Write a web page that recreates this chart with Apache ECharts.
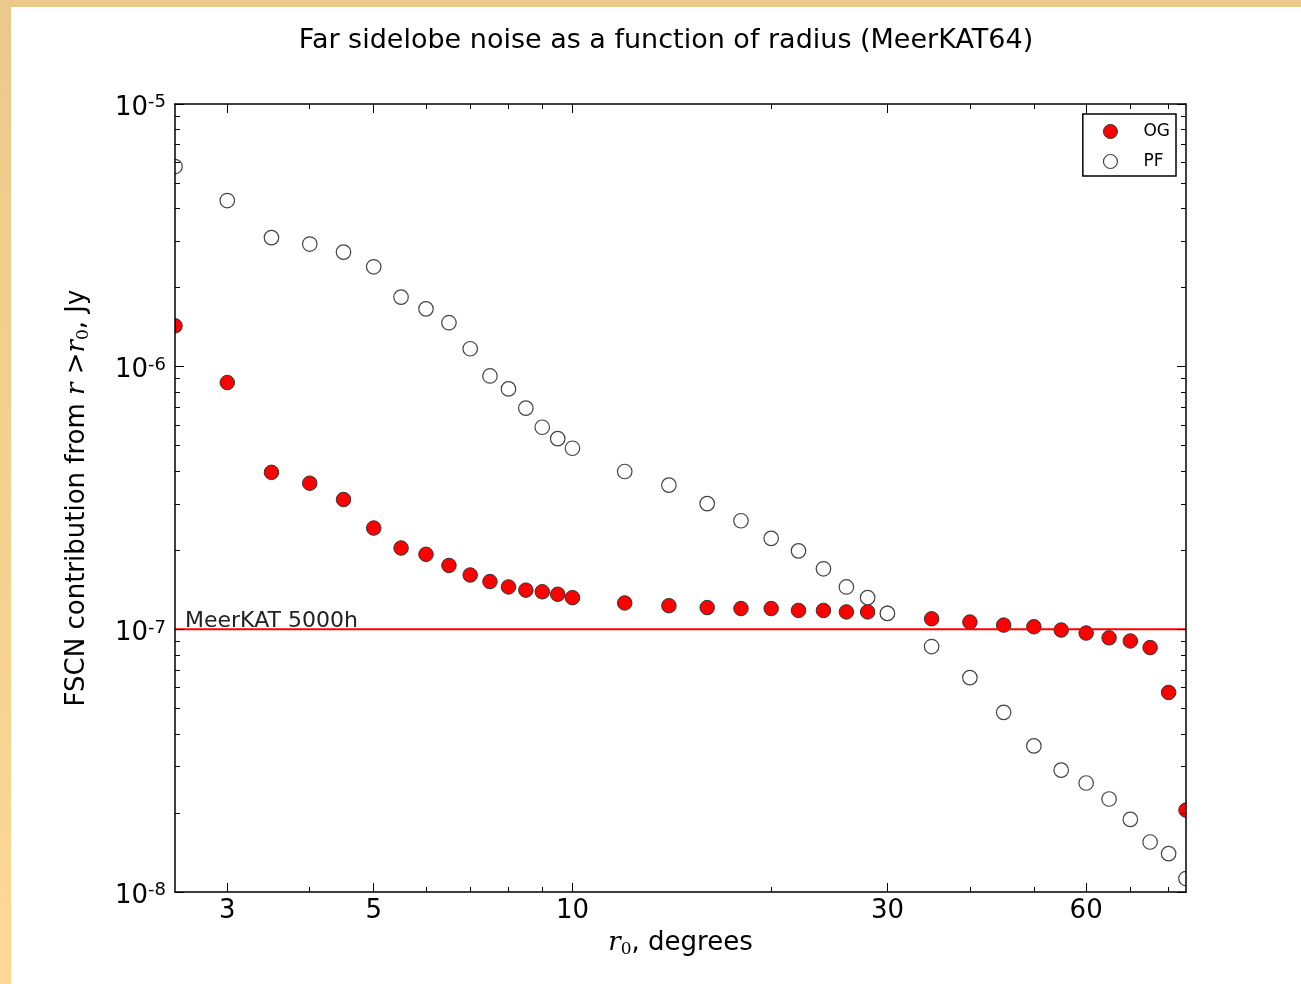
<!DOCTYPE html>
<html>
<head>
<meta charset="utf-8">
<script src="https://cdn.jsdelivr.net/npm/echarts@6/dist/echarts.min.js"></script>
<style>
  html, body { margin: 0; padding: 0; background: #ffffff; }
  #chart { width: 1301px; height: 984px; }
</style>
</head>
<body>
<div id="chart"></div>
<script>
// ---- data ----
const r0 = [2.5, 3, 3.5, 4, 4.5, 5, 5.5, 6, 6.5, 7, 7.5, 8, 8.5, 9, 9.5, 10,
            12, 14, 16, 18, 20, 22, 24, 26, 28, 30,
            35, 40, 45, 50, 55, 60, 65, 70, 75, 80, 85];
const ogValues = [1.43e-6, 8.7e-7, 3.96e-7, 3.6e-7, 3.12e-7, 2.43e-7, 2.04e-7, 1.93e-7, 1.75e-7, 1.61e-7,
                  1.52e-7, 1.45e-7, 1.41e-7, 1.39e-7, 1.36e-7, 1.32e-7,
                  1.26e-7, 1.23e-7, 1.21e-7, 1.20e-7, 1.20e-7, 1.18e-7, 1.18e-7, 1.165e-7, 1.165e-7, 1.15e-7,
                  1.097e-7, 1.066e-7, 1.038e-7, 1.023e-7, 9.94e-8, 9.68e-8, 9.28e-8, 9.03e-8, 8.52e-8, 5.75e-8, 2.05e-8];
const pfValues = [5.78e-6, 4.29e-6, 3.10e-6, 2.93e-6, 2.73e-6, 2.40e-6, 1.84e-6, 1.66e-6, 1.47e-6, 1.17e-6,
                  9.22e-7, 8.23e-7, 6.95e-7, 5.88e-7, 5.32e-7, 4.89e-7,
                  3.99e-7, 3.54e-7, 3.01e-7, 2.59e-7, 2.22e-7, 1.99e-7, 1.70e-7, 1.45e-7, 1.32e-7, 1.15e-7,
                  8.6e-8, 6.55e-8, 4.83e-8, 3.60e-8, 2.91e-8, 2.60e-8, 2.26e-8, 1.89e-8, 1.55e-8, 1.40e-8, 1.125e-8];
const meerkatLevel = 1e-7;
const meerkatLabel = 'MeerKAT 5000h';
const seriesNames = ['OG', 'PF'];

const xMin = 2.5, xMax = 85;
const yMin = 1e-8, yMax = 1e-5;
const xTicksMajor = [3, 5, 10, 30, 60];
const xTicksMinor = [4, 6, 7, 8, 9, 20, 40, 50, 70, 80];
const yTicksMajor = [1e-8, 1e-7, 1e-6, 1e-5];
const yTicksMinor = [2e-8, 3e-8, 4e-8, 5e-8, 6e-8, 7e-8, 8e-8, 9e-8,
                     2e-7, 3e-7, 4e-7, 5e-7, 6e-7, 7e-7, 8e-7, 9e-7,
                     2e-6, 3e-6, 4e-6, 5e-6, 6e-6, 7e-6, 8e-6, 9e-6];

const titleText = 'Far sidelobe noise as a function of radius (MeerKAT64)';

// ---- chart ----
const FONT = 'DejaVu Sans';
const GRID = { left: 175, top: 104, width: 1011, height: 788 };
const chart = echarts.init(document.getElementById('chart'), null, { renderer: 'canvas' });

function xAx(position, ticks, len, withLabel, withLine) {
  return {
    type: 'log', logBase: 10, position: position, min: xMin, max: xMax, z: 10,
    axisLine: { show: withLine, onZero: false, lineStyle: { color: '#000', width: 1.5 } },
    axisTick: { show: true, inside: true, length: len, customValues: ticks,
                lineStyle: { color: '#000', width: 1 } },
    axisLabel: withLabel ? {
      show: true, customValues: ticks, margin: 6, color: '#000',
      fontFamily: FONT, fontSize: 26,
      formatter: function (v) { return String(Math.round(v)); }
    } : { show: false },
    splitLine: { show: false }, minorTick: { show: false }, minorSplitLine: { show: false }
  };
}
function yAx(position, ticks, len, withLabel, withLine) {
  return {
    type: 'log', logBase: 10, position: position, min: yMin, max: yMax, z: 10,
    axisLine: { show: withLine, onZero: false, lineStyle: { color: '#000', width: 1.5 } },
    axisTick: { show: true, inside: true, length: len, customValues: ticks,
                lineStyle: { color: '#000', width: 1 } },
    axisLabel: withLabel ? {
      show: true, customValues: ticks, margin: 9, color: '#000',
      formatter: function (v) { return '{b|10}{s|' + Math.round(Math.log10(v)) + '}'; },
      rich: {
        b: { fontFamily: FONT, fontSize: 26, lineHeight: 27, padding: [8, 0, 0, 0], color: '#000' },
        s: { fontFamily: FONT, fontSize: 18, lineHeight: 18, padding: [3, 0, 0, 0], verticalAlign: 'top', color: '#000' }
      }
    } : { show: false },
    splitLine: { show: false }, minorTick: { show: false }, minorSplitLine: { show: false }
  };
}

const nameRich = {
  i: { fontFamily: 'DejaVu Serif', fontStyle: 'italic', fontSize: 26, lineHeight: 30, color: '#000' },
  sub: { fontFamily: 'DejaVu Serif', fontSize: 17, lineHeight: 17, verticalAlign: 'bottom', color: '#000' },
  n: { fontFamily: FONT, fontSize: 26, lineHeight: 30, color: '#000' }
};

const xAxes = [
  xAx('bottom', xTicksMajor, 9, true, true),
  xAx('bottom', xTicksMinor, 5, false, false),
  xAx('top', xTicksMajor, 9, false, true),
  xAx('top', xTicksMinor, 5, false, false)
];
xAxes[0].name = '{i|r}{sub|0}{n|, degrees}';
xAxes[0].nameLocation = 'middle';
xAxes[0].nameGap = 36;
xAxes[0].nameTextStyle = { color: '#000', fontFamily: FONT, fontSize: 26, rich: nameRich };

const yAxes = [
  yAx('left', yTicksMajor, 9, true, true),
  yAx('left', yTicksMinor, 5, false, false),
  yAx('right', yTicksMajor, 9, false, true),
  yAx('right', yTicksMinor, 5, false, false)
];
yAxes[0].name = '{n|FSCN contribution from }{i|r}{n| >}{i|r}{sub|0}{n|, Jy}';
yAxes[0].nameLocation = 'middle';
yAxes[0].nameRotate = 90;
yAxes[0].nameGap = 83;
yAxes[0].nameTextStyle = { color: '#000', fontFamily: FONT, fontSize: 26, rich: nameRich };

const ogData = r0.map((r, i) => [r, ogValues[i]]);
const pfData = r0.map((r, i) => [r, pfValues[i]]);
const meerkatData = [[xMin, meerkatLevel], [xMax, meerkatLevel]];

// white masks just outside the plot frame, so edge markers look clipped like matplotlib
const gx0 = GRID.left, gx1 = GRID.left + GRID.width, gy0 = GRID.top, gy1 = GRID.top + GRID.height;
const masks = [
  { x: gx0 - 20, y: gy0 - 20, width: 20, height: GRID.height + 40 },
  { x: gx1, y: gy0 - 20, width: 20, height: GRID.height + 40 },
  { x: gx0 - 20, y: gy0 - 20, width: GRID.width + 40, height: 20 },
  { x: gx0 - 20, y: gy1, width: GRID.width + 40, height: 20 }
].map((s, k) => ({ id: 'mask' + k, type: 'rect', shape: s, style: { fill: '#ffffff' }, z: 5, silent: true }));

const option = {
  animation: false,
  backgroundColor: '#ffffff',
  textStyle: { fontFamily: FONT },
  graphic: masks.concat([
    { id: 'bTop', type: 'rect', shape: { x: 0, y: 0, width: 1301, height: 7 }, style: { fill: '#ecc98a' }, z: 100 },
    { id: 'bLeft', type: 'rect', shape: { x: 0, y: 0, width: 11, height: 984 },
      style: { fill: new echarts.graphic.LinearGradient(0, 0, 0, 1, [
        { offset: 0, color: '#ecc98a' }, { offset: 1, color: '#fdd897' }]) }, z: 100 }
  ]),
  title: {
    text: titleText, left: 661, top: 22, textAlign: 'center',
    textStyle: { fontFamily: FONT, fontSize: 27, fontWeight: 'normal', color: '#000' }
  },
  grid: { left: GRID.left, top: GRID.top, width: GRID.width, height: GRID.height, containLabel: false },
  legend: {
    orient: 'vertical', right: 125, top: 114, z: 20,
    padding: [9, 6, 6, 20], itemGap: 13, itemWidth: 14, itemHeight: 14,
    borderColor: '#000', borderWidth: 1.5, borderRadius: 0, backgroundColor: '#fff',
    textStyle: { fontFamily: FONT, fontSize: 17, color: '#000', padding: [0, 0, 0, 21] },
    data: [
      { name: seriesNames[0], icon: 'circle', itemStyle: { color: '#ff0000', borderColor: '#333', borderWidth: 1 } },
      { name: seriesNames[1], icon: 'circle', itemStyle: { color: '#ffffff', borderColor: '#444', borderWidth: 1.2 } }
    ]
  },
  xAxis: xAxes,
  yAxis: yAxes,
  series: [
    {
      name: seriesNames[0], type: 'scatter', xAxisIndex: 0, yAxisIndex: 0,
      data: ogData, symbol: 'circle', symbolSize: 14.5,
      itemStyle: { color: '#ff0000', borderColor: '#333', borderWidth: 1, opacity: 1 },
      z: 2
    },
    {
      name: seriesNames[1], type: 'scatter', xAxisIndex: 0, yAxisIndex: 0,
      data: pfData, symbol: 'circle', symbolSize: 14.5,
      itemStyle: { color: '#ffffff', borderColor: '#444', borderWidth: 1.2, opacity: 1 },
      z: 3
    },
    {
      name: meerkatLabel, type: 'line', xAxisIndex: 0, yAxisIndex: 0,
      data: meerkatData, showSymbol: false, symbol: 'none', silent: true,
      lineStyle: { color: '#ff0000', width: 2, type: 'solid' },
      z: 4
    }
  ]
};
chart.setOption(option);

// label of the reference line, placed through the chart's own scales
const p = chart.convertToPixel({ xAxisIndex: 0, yAxisIndex: 0 }, [xMin, meerkatLevel]);
chart.setOption({
  graphic: [{
    id: 'meerkatText', type: 'text', z: 4, silent: true,
    x: p[0] + 10, y: p[1] + 3,
    style: { text: meerkatLabel, fontFamily: FONT, fontSize: 22, fill: '#222',
             textAlign: 'left', textVerticalAlign: 'bottom' }
  }]
});
</script>
</body>
</html>
